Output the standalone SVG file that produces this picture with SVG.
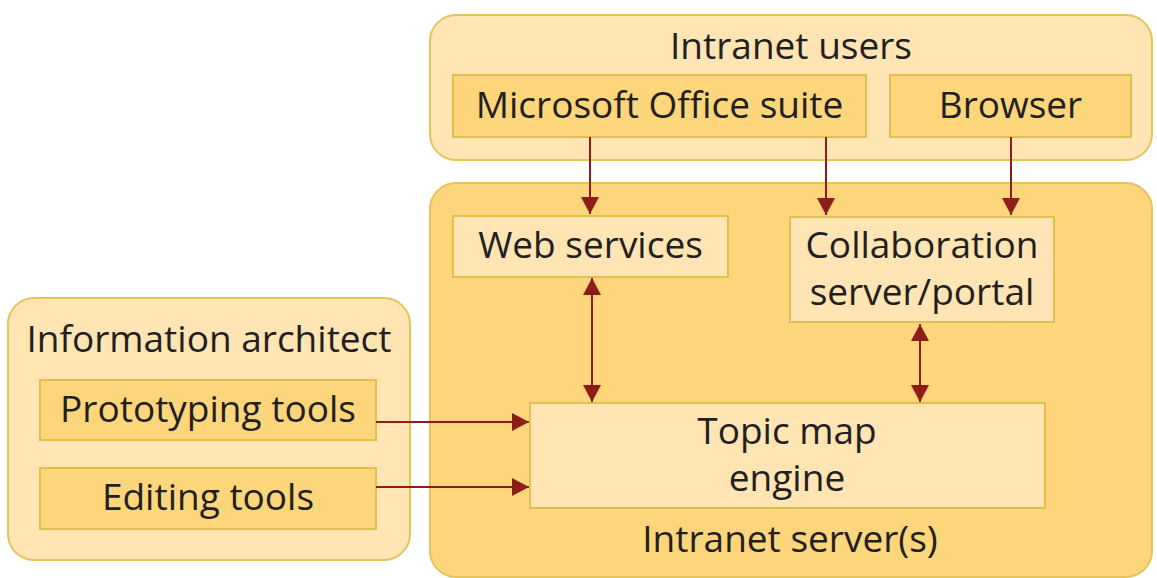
<svg xmlns="http://www.w3.org/2000/svg" width="1157" height="578" viewBox="0 0 1157 578">
  <defs>
    <marker id="arrow" viewBox="0 0 17 18" refX="17" refY="9" markerWidth="17" markerHeight="18" markerUnits="userSpaceOnUse" orient="auto-start-reverse">
      <path d="M0,0 L17,9 L0,18 Z" fill="#8C1D18"/>
    </marker>
  </defs>
  <style>
    .group-pale { fill: #FEE5B3; stroke: #E5C25A; stroke-width: 2; }
    .group-deep { fill: #FDD57B; stroke: #E5C25A; stroke-width: 2; }
    .box-deep { fill: #FDD57B; stroke: #E2BD4F; stroke-width: 2; }
    .box-pale { fill: #FEE5B3; stroke: #E2BD4F; stroke-width: 2; }
    .label { font-family: "Open Sans", "Noto Sans", "DejaVu Sans", sans-serif; font-size: 37px; fill: #231F20; text-anchor: middle; }
    .conn { stroke: #8C1D18; stroke-width: 2; fill: none; }
  </style>
  <rect width="1157" height="578" fill="#FFFFFF"/>

  <!-- Intranet users -->
  <g id="intranet-users">
    <rect class="group-pale" x="430" y="15" width="722" height="145" rx="26"/>
    <text class="label" x="791" y="59">Intranet users</text>
  </g>
  <g id="office-suite">
    <rect class="box-deep" x="453" y="75" width="413" height="62"/>
    <text class="label" x="659.5" y="118">Microsoft Office suite</text>
  </g>
  <g id="browser">
    <rect class="box-deep" x="890" y="75" width="241" height="62"/>
    <text class="label" x="1010.5" y="118">Browser</text>
  </g>

  <!-- Intranet server(s) -->
  <g id="intranet-servers">
    <rect class="group-deep" x="430" y="183" width="722" height="394" rx="26"/>
    <text class="label" x="790" y="552">Intranet server(s)</text>
  </g>
  <g id="web-services">
    <rect class="box-pale" x="453" y="216" width="275" height="61"/>
    <text class="label" x="590.5" y="258">Web services</text>
  </g>
  <g id="collaboration">
    <rect class="box-pale" x="790" y="217" width="264" height="105"/>
    <text class="label" x="922" y="258">Collaboration</text>
    <text class="label" x="922" y="305">server/portal</text>
  </g>
  <g id="topic-map">
    <rect class="box-pale" x="530" y="403" width="515" height="105"/>
    <text class="label" x="787" y="444">Topic map</text>
    <text class="label" x="787" y="491">engine</text>
  </g>

  <!-- Information architect -->
  <g id="information-architect">
    <rect class="group-pale" x="8" y="298" width="402" height="262" rx="26"/>
    <text class="label" x="209" y="352">Information architect</text>
  </g>
  <g id="prototyping-tools">
    <rect class="box-deep" x="40" y="380" width="336" height="60"/>
    <text class="label" x="208" y="422">Prototyping tools</text>
  </g>
  <g id="editing-tools">
    <rect class="box-deep" x="40" y="468" width="336" height="61"/>
    <text class="label" x="208" y="510">Editing tools</text>
  </g>

  <!-- Connectors -->
  <g id="connectors">
    <line class="conn" x1="590" y1="137" x2="590" y2="214" marker-end="url(#arrow)"/>
    <line class="conn" x1="826" y1="137" x2="826" y2="215" marker-end="url(#arrow)"/>
    <line class="conn" x1="1011" y1="137" x2="1011" y2="215" marker-end="url(#arrow)"/>
    <line class="conn" x1="592" y1="278" x2="592" y2="402" marker-start="url(#arrow)" marker-end="url(#arrow)"/>
    <line class="conn" x1="920" y1="324" x2="920" y2="402" marker-start="url(#arrow)" marker-end="url(#arrow)"/>
    <line class="conn" x1="376" y1="422" x2="529" y2="422" marker-end="url(#arrow)"/>
    <line class="conn" x1="376" y1="487" x2="529" y2="487" marker-end="url(#arrow)"/>
  </g>
</svg>
